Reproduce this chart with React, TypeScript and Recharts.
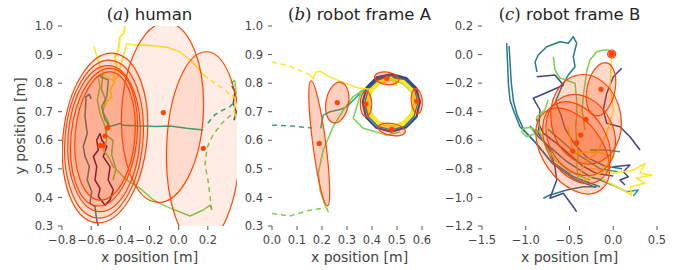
import React from "react";
import { ScatterChart, Scatter, XAxis, YAxis } from "recharts";

type P = [number, number];
type Ell = [number, number, number, number, number]; // x, y, rx, ry, angle
type Track = { pts: P[]; color: string; dash?: boolean; w?: number };

const C = {
  purple: "#440154",
  blue: "#414487",
  teal: "#2a788e",
  green: "#22a884",
  lime: "#7ad151",
  olive: "#5ec962",
  yellow: "#fde725",
};

// ---------- (a) human ----------
const aXTicks = [-0.8, -0.6, -0.4, -0.2, 0, 0.2];
const abYTicks = [0.3, 0.4, 0.5, 0.6, 0.7, 0.8, 0.9, 1.0];

const aTeal: P[] = [[-0.6, 0.745], [-0.613, 0.761], [-0.635, 0.753], [-0.642, 0.683], [-0.627, 0.624], [-0.654, 0.578], [-0.642, 0.543], [-0.613, 0.508], [-0.627, 0.461], [-0.596, 0.42], [-0.608, 0.379], [-0.574, 0.368], [-0.562, 0.321], [-0.551, 0.3]];
const aPurple: P[] = [[-0.539, 0.624], [-0.562, 0.601], [-0.551, 0.566], [-0.585, 0.543], [-0.562, 0.508], [-0.574, 0.461], [-0.539, 0.432], [-0.551, 0.403], [-0.505, 0.373], [-0.471, 0.391], [-0.448, 0.426], [-0.483, 0.461], [-0.471, 0.508], [-0.517, 0.543], [-0.493, 0.578], [-0.528, 0.601], [-0.539, 0.624]];
const aGreen: P[] = [[-0.539, 0.823], [-0.482, 0.811], [-0.493, 0.753], [-0.528, 0.718], [-0.505, 0.671], [-0.471, 0.648], [-0.402, 0.659], [-0.38, 0.653], [-0.265, 0.65], [-0.151, 0.648], [-0.059, 0.65], [0.055, 0.642], [0.169, 0.636]];
const aGreenDash: P[] = [[0.2, 0.66], [0.25, 0.69], [0.3, 0.705], [0.352, 0.718], [0.398, 0.741]];
const aLime: P[] = [[-0.551, 0.817], [-0.539, 0.788], [-0.558, 0.741], [-0.539, 0.694], [-0.505, 0.648], [-0.493, 0.601], [-0.517, 0.566], [-0.483, 0.543], [-0.448, 0.508], [-0.356, 0.461], [-0.265, 0.432], [-0.174, 0.391], [-0.082, 0.368], [0.078, 0.335], [0.169, 0.356], [0.215, 0.373], [0.227, 0.356]];
const aLimeDash: P[] = [[0.227, 0.356], [0.201, 0.461], [0.181, 0.513], [0.194, 0.573], [0.235, 0.618], [0.297, 0.66], [0.373, 0.695]];
const aOlive: P[] = [[-0.56, 0.82], [-0.52, 0.83], [-0.53, 0.78], [-0.5, 0.74], [-0.52, 0.7], [-0.48, 0.66], [-0.5, 0.62], [-0.45, 0.6], [-0.46, 0.55], [-0.43, 0.5], [-0.45, 0.46]];
const aYellow1: P[] = [[-0.368, 1.0], [-0.375, 0.975], [-0.402, 0.962], [-0.414, 0.916], [-0.437, 0.893], [-0.425, 0.858], [-0.448, 0.828], [-0.437, 0.805], [-0.471, 0.776], [-0.459, 0.753], [-0.493, 0.735], [-0.505, 0.718]];
const aYellow2: P[] = [[-0.58, 0.93], [-0.56, 0.89], [-0.539, 0.86], [-0.493, 0.82], [-0.448, 0.81], [-0.42, 0.82], [-0.356, 0.939], [-0.313, 0.934], [-0.197, 0.932], [-0.08, 0.926], [0.009, 0.909], [0.078, 0.881], [0.133, 0.853], [0.169, 0.828]];
const aYellowDash: P[] = [[0.169, 0.828], [0.249, 0.8], [0.318, 0.776], [0.373, 0.748]];
const aEdgeBlue: P[] = [[0.365, 0.79], [0.385, 0.77], [0.375, 0.73], [0.395, 0.7], [0.38, 0.67]];
const aEdgeYellow: P[] = [[0.37, 0.76], [0.39, 0.74], [0.38, 0.7], [0.395, 0.68]];
const aEdgeLime: P[] = [[0.36, 0.8], [0.385, 0.81], [0.395, 0.76]];

const aEllipses: Ell[] = [
  [-0.505, 0.608, 0.288, 0.298, 6],
  [-0.512, 0.604, 0.267, 0.277, 5],
  [-0.512, 0.606, 0.247, 0.256, 4],
  [-0.512, 0.611, 0.226, 0.242, 6],
  [-0.505, 0.615, 0.205, 0.225, 5],
  [-0.111, 0.697, 0.28, 0.315, 3],
  [0.169, 0.572, 0.252, 0.338, 2],
];
const aMeans: P[] = [[-0.487, 0.644], [-0.505, 0.615], [-0.54, 0.581], [-0.52, 0.581], [-0.105, 0.697], [0.169, 0.572]];

// ---------- (b) robot frame A ----------
const bXTicks = [0, 0.1, 0.2, 0.3, 0.4, 0.5, 0.6];

const bYellowDash: P[] = [[0, 0.875], [0.075, 0.858], [0.152, 0.829]];
const bYellow: P[] = [[0.152, 0.828], [0.164, 0.815], [0.176, 0.839], [0.192, 0.842], [0.232, 0.821], [0.292, 0.8], [0.344, 0.783], [0.392, 0.779], [0.432, 0.797], [0.452, 0.811]];
const bTealDash: P[] = [[0, 0.653], [0.08, 0.65], [0.16, 0.643]];
const bTeal: P[] = [[0.195, 0.642], [0.205, 0.688], [0.232, 0.7], [0.272, 0.708], [0.299, 0.717], [0.325, 0.74], [0.352, 0.764], [0.379, 0.782], [0.405, 0.799]];
const bLimeDash: P[] = [[0, 0.344], [0.072, 0.335], [0.139, 0.353], [0.2, 0.362]];
const bLime: P[] = [[0.219, 0.362], [0.225, 0.35], [0.213, 0.37], [0.192, 0.426], [0.185, 0.484], [0.205, 0.566], [0.245, 0.648], [0.285, 0.706], [0.325, 0.753], [0.365, 0.776], [0.416, 0.794]];
const bLime2: P[] = [[0.359, 0.776], [0.325, 0.677], [0.365, 0.642], [0.459, 0.618], [0.512, 0.63]];
const ringBlue: P[] = [[0.38, 0.78], [0.42, 0.815], [0.476, 0.829], [0.532, 0.815], [0.575, 0.78], [0.592, 0.735], [0.578, 0.682], [0.536, 0.645], [0.477, 0.63], [0.417, 0.644], [0.376, 0.681], [0.363, 0.733], [0.378, 0.785], [0.418, 0.82], [0.478, 0.832], [0.537, 0.818], [0.577, 0.783], [0.591, 0.734]];
const ringTeal: P[] = [[0.582, 0.729], [0.568, 0.777], [0.53, 0.811], [0.477, 0.823], [0.424, 0.81], [0.387, 0.777], [0.372, 0.73], [0.386, 0.684], [0.424, 0.65], [0.478, 0.638], [0.531, 0.651], [0.567, 0.684], [0.581, 0.731], [0.565, 0.772], [0.527, 0.806], [0.476, 0.818]];
const ringGreen: P[] = [[0.575, 0.733], [0.561, 0.775], [0.526, 0.806], [0.476, 0.817], [0.427, 0.805], [0.392, 0.774], [0.379, 0.731], [0.392, 0.688], [0.428, 0.657], [0.477, 0.646], [0.526, 0.657], [0.561, 0.689], [0.574, 0.732]];
const ringLime: P[] = [[0.57, 0.73], [0.557, 0.771], [0.524, 0.8], [0.477, 0.812], [0.43, 0.8], [0.396, 0.771], [0.384, 0.73], [0.396, 0.69], [0.43, 0.661], [0.477, 0.65], [0.524, 0.661], [0.557, 0.691], [0.569, 0.731]];
const ringYellow: P[] = [[0.452, 0.81], [0.477, 0.815], [0.523, 0.804], [0.556, 0.774], [0.568, 0.733], [0.556, 0.692], [0.523, 0.662], [0.477, 0.651], [0.431, 0.662], [0.398, 0.692], [0.386, 0.732], [0.398, 0.772], [0.431, 0.802], [0.477, 0.813], [0.527, 0.807], [0.563, 0.777], [0.577, 0.733], [0.562, 0.687], [0.526, 0.654], [0.477, 0.642], [0.428, 0.654], [0.392, 0.686], [0.378, 0.731], [0.392, 0.776], [0.428, 0.806], [0.477, 0.82], [0.5, 0.79]];

const bEllipses: Ell[] = [
  [0.189, 0.589, 0.026, 0.2205, -7.5],
  [0.261, 0.732, 0.045, 0.072, 10],
  [0.459, 0.817, 0.049, 0.0217, 8],
  [0.376, 0.727, 0.023, 0.044, 0],
  [0.579, 0.737, 0.022, 0.044, -5],
  [0.479, 0.638, 0.055, 0.021, 10],
];
const bMeans: P[] = [[0.189, 0.589], [0.261, 0.732], [0.459, 0.817], [0.376, 0.727], [0.579, 0.737], [0.479, 0.638]];

// ---------- (c) robot frame B ----------
const cXTicks = [-1.5, -1.0, -0.5, 0, 0.5];
const cYTicks = [-1.2, -1.0, -0.8, -0.6, -0.4, -0.2, 0, 0.2];

const cTealArc: P[] = [[-1.218, 0.079], [-1.209, -0.038], [-1.199, -0.201], [-1.18, -0.318], [-1.142, -0.388], [-1.066, -0.505], [-0.914, -0.598], [-0.723, -0.738], [-0.457, -0.855], [-0.151, -0.925]];
const cTealArc2: P[] = [[-1.19, 0.06], [-1.18, -0.05], [-1.165, -0.2], [-1.14, -0.33], [-1.1, -0.42], [-1.02, -0.53], [-0.87, -0.63], [-0.7, -0.76], [-0.45, -0.87], [-0.2, -0.93]];
const cTealTop: P[] = [[-0.871, -0.122], [-0.894, -0.052], [-0.857, -0.003], [-0.761, 0.055], [-0.609, 0.09], [-0.514, 0.079], [-0.457, 0.125], [-0.418, 0.079], [-0.457, -0.015], [-0.437, -0.085], [-0.514, -0.143], [-0.589, -0.225], [-0.66, -0.33], [-0.6, -0.42], [-0.55, -0.52], [-0.45, -0.62], [-0.3, -0.72], [-0.1, -0.78], [0.1, -0.8]];
const cBlueRight: P[] = [[0.097, -0.096], [0.001, -0.155], [-0.075, -0.271], [-0.114, -0.388], [-0.075, -0.481], [0.077, -0.505], [0.191, -0.575], [0.306, -0.668]];
const cBlueLeft: P[] = [[-0.875, -0.155], [-0.666, -0.143], [-0.571, -0.213], [-0.7, -0.25], [-0.914, -0.306], [-0.837, -0.388], [-0.857, -0.551], [-0.723, -0.668], [-0.666, -0.785], [-0.646, -0.878], [-0.723, -1.006], [-0.571, -0.971], [-0.457, -1.065], [-0.418, -1.1]];
const cLimeLoop: P[] = [[-0.746, -0.318], [-0.78, -0.388], [-0.875, -0.435], [-0.837, -0.528], [-0.875, -0.551], [-0.989, -0.575], [-1.046, -0.54], [-1.028, -0.516], [-0.96, -0.51], [-0.84, -0.54], [-0.78, -0.633], [-0.666, -0.738], [-0.494, -0.822], [-0.266, -0.878]];
const cLimeVert: P[] = [[-0.685, -0.015], [-0.666, -0.108], [-0.609, -0.164], [-0.437, -0.201], [-0.418, -0.318], [-0.418, -0.435], [-0.43, -0.5], [-0.418, -0.598], [-0.4, -0.7], [-0.418, -0.785], [-0.399, -0.878]];
const cLimeTop: P[] = [[-0.323, -0.528], [-0.357, -0.388], [-0.334, -0.248], [-0.303, -0.12], [-0.266, -0.038], [-0.189, 0.02], [-0.117, 0.032], [-0.057, 0.032], [-0.018, 0.004]];
const cYellowVert: P[] = [[-0.018, -0.015], [-0.037, -0.225], [0.001, -0.388], [-0.075, -0.551], [-0.189, -0.691], [-0.303, -0.738], [-0.38, -0.831]];
const cYellowZig: P[] = [[-0.266, -0.794], [0.001, -0.831], [0.23, -0.808], [0.363, -0.761], [0.306, -0.831], [0.44, -0.843], [0.268, -0.866], [0.363, -0.901], [0.191, -0.925], [0.21, -0.983], [0.077, -0.936], [-0.151, -0.864]];
const cYellowIn: P[] = [[-0.52, -0.5], [-0.5, -0.56], [-0.46, -0.689], [-0.189, -0.68], [0.001, -0.715], [-0.151, -0.831], [-0.342, -0.878]];
const cBlueBR: P[] = [[0.001, -0.785], [0.191, -0.773], [0.115, -0.82], [0.172, -0.855], [0.077, -0.878], [0.134, -0.913]];
const cGreen1: P[] = [[-0.266, -0.668], [-0.083, -0.668], [0.077, -0.68]];
const cGreen2: P[] = [[-0.151, -0.878], [0.02, -0.92], [0.154, -0.96], [0.286, -0.948], [0.229, -0.99]];
const cBand1: P[] = [[-0.95, -0.5], [-0.85, -0.58], [-0.7, -0.66], [-0.55, -0.74], [-0.4, -0.8], [-0.25, -0.86], [-0.1, -0.88]];
const cBand2: P[] = [[-0.88, -0.45], [-0.8, -0.55], [-0.65, -0.62], [-0.5, -0.7], [-0.35, -0.78], [-0.2, -0.83], [0.0, -0.85]];
const cBand3: P[] = [[-0.75, -0.52], [-0.6, -0.6], [-0.45, -0.68], [-0.3, -0.74], [-0.15, -0.8], [0.05, -0.82]];
const cTealBottom: P[] = [[-0.799, -1.006], [-0.723, -0.983], [-0.532, -0.948], [-0.342, -0.925], [-0.189, -0.925]];

const cEllipses: Ell[] = [
  [-0.018, 0.004, 0.046, 0.028, 0],
  [-0.018, 0.004, 0.03, 0.019, 0],
  [-0.14, -0.243, 0.16, 0.189, 12],
  [-0.311, -0.453, 0.4, 0.315, -10],
  [-0.372, -0.563, 0.377, 0.294, -25],
  [-0.418, -0.617, 0.343, 0.308, -30],
  [-0.463, -0.675, 0.343, 0.336, -35],
];
const cMeans: P[] = [[-0.018, 0.004], [-0.14, -0.243], [-0.311, -0.453], [-0.372, -0.563], [-0.418, -0.617], [-0.463, -0.675]];

// ---------- layout ----------
const PLOT_W = 175;
const PLOT_H = 200;
const RED = "#ff4500";
const tickStyle = { fill: "#444", fontSize: 11.5, fontFamily: "DejaVu Sans" };

const fmt = (v: number) => (Math.abs(v) < 1e-9 ? 0 : v).toFixed(1).replace("-", "\u2212");
const toPts = (a: P[]) => a.map(([x, y]) => ({ x, y }));
const noShape = () => <g />;

type PanelProps = {
  left: number;
  yw: number;
  rightPad?: number;
  xDomain: [number, number];
  yDomain: [number, number];
  xTicks: number[];
  yTicks: number[];
  tracks: Track[];
  ellipses: Ell[];
  means: P[];
  alpha: number;
};

function Panel({ left, yw, rightPad = 2, xDomain, yDomain, xTicks, yTicks, tracks, ellipses, means, alpha }: PanelProps) {
  const kx = PLOT_W / (xDomain[1] - xDomain[0]);
  const ky = PLOT_H / (yDomain[1] - yDomain[0]);
  const ellData = ellipses.map(([x, y, rx, ry, angle]) => ({ x, y, rx, ry, angle }));
  const ellShape = (p: any) => {
    const e = p.payload;
    return (
      <ellipse
        cx={p.cx}
        cy={p.cy}
        rx={e.rx * kx}
        ry={e.ry * ky}
        transform={`rotate(${e.angle} ${p.cx} ${p.cy})`}
        fill={RED}
        fillOpacity={alpha}
        stroke={RED}
        strokeWidth={1.2}
      />
    );
  };
  const dotShape = (p: any) => <circle cx={p.cx} cy={p.cy} r={2.6} fill={RED} />;

  return (
    <div style={{ position: "absolute", left, top: 0 }}>
      <ScatterChart width={yw + PLOT_W + 1 + rightPad} height={270} margin={{ top: 25, right: rightPad, bottom: 0, left: 0 }}>
        <XAxis xAxisId="b" dataKey="x" type="number" domain={xDomain} ticks={xTicks} interval={0} allowDataOverflow height={44} tickSize={4} tickMargin={6} axisLine={false} stroke="#555" tick={tickStyle} tickFormatter={fmt} />
        <XAxis xAxisId="t" orientation="top" dataKey="x" type="number" domain={xDomain} ticks={xTicks} interval={0} allowDataOverflow height={1} tickSize={4} axisLine={false} stroke="#555" tick={false} />
        <YAxis yAxisId="l" dataKey="y" type="number" domain={yDomain} ticks={yTicks} interval={0} allowDataOverflow width={yw} tickSize={4} tickMargin={5} axisLine={false} stroke="#555" tick={tickStyle} tickFormatter={fmt} />
        <YAxis yAxisId="r" orientation="right" dataKey="y" type="number" domain={yDomain} ticks={yTicks} interval={0} allowDataOverflow width={1} tickSize={4} axisLine={false} stroke="#555" tick={false} />
        {tracks.map((t, i) => (
          <Scatter
            key={"t" + i}
            xAxisId="b"
            yAxisId="l"
            data={toPts(t.pts)}
            fill={t.color}
            line={{ stroke: t.color, strokeWidth: t.w ?? 1.5, strokeDasharray: t.dash ? "5 4" : undefined, strokeLinejoin: "round" }}
            shape={noShape}
            isAnimationActive={false}
          />
        ))}
        <Scatter xAxisId="b" yAxisId="l" data={ellData} shape={ellShape} isAnimationActive={false} />
        <Scatter xAxisId="b" yAxisId="l" data={toPts(means)} shape={dotShape} isAnimationActive={false} />
      </ScatterChart>
    </div>
  );
}

const aTracks: Track[] = [
  { pts: aTeal, color: C.teal },
  { pts: aPurple, color: C.purple },
  { pts: aOlive, color: C.olive },
  { pts: aGreen, color: C.green },
  { pts: aGreenDash, color: C.green, dash: true },
  { pts: aLime, color: C.lime },
  { pts: aLimeDash, color: C.lime, dash: true },
  { pts: aYellow2, color: C.yellow },
  { pts: aYellow1, color: C.yellow, w: 2 },
  { pts: aYellowDash, color: C.yellow, dash: true },
  { pts: aEdgeBlue, color: C.blue },
  { pts: aEdgeYellow, color: C.yellow },
  { pts: aEdgeLime, color: C.lime },
];

const bTracks: Track[] = [
  { pts: bYellowDash, color: C.yellow, dash: true },
  { pts: bTealDash, color: C.green, dash: true },
  { pts: bLimeDash, color: C.lime, dash: true },
  { pts: bTeal, color: C.green },
  { pts: bLime, color: C.lime },
  { pts: bLime2, color: C.lime },
  { pts: ringBlue, color: C.blue, w: 2.2 },
  { pts: ringTeal, color: C.teal, w: 2.2 },
  { pts: ringGreen, color: C.green, w: 2.2 },
  { pts: ringLime, color: C.lime, w: 2.2 },
  { pts: ringYellow, color: C.yellow, w: 2.2 },
  { pts: bYellow, color: C.yellow },
];

const cTracks: Track[] = [
  { pts: cTealArc, color: C.teal },
  { pts: cTealArc2, color: C.teal },
  { pts: cTealTop, color: C.teal },
  { pts: cTealBottom, color: C.teal },
  { pts: cBlueLeft, color: C.blue },
  { pts: cBlueRight, color: C.blue },
  { pts: cBand1, color: C.teal },
  { pts: cBand2, color: C.blue },
  { pts: cBand3, color: C.green },
  { pts: cLimeLoop, color: C.lime },
  { pts: cLimeVert, color: C.lime },
  { pts: cLimeTop, color: C.lime },
  { pts: cGreen1, color: C.green },
  { pts: cGreen2, color: C.green },
  { pts: cBlueBR, color: C.blue },
  { pts: cYellowVert, color: C.yellow },
  { pts: cYellowIn, color: C.yellow },
  { pts: cYellowZig, color: C.yellow },
];

function Title({ x, letter, text }: { x: number; letter: string; text: string }) {
  return (
    <text x={x} y={20} textAnchor="middle" fontSize={16.5} fill="#262626">
      <tspan fontFamily="DejaVu Serif">(</tspan>
      <tspan fontFamily="DejaVu Serif" fontStyle="italic">{letter}</tspan>
      <tspan fontFamily="DejaVu Serif">)</tspan>
      <tspan fontFamily="DejaVu Sans">{" " + text}</tspan>
    </text>
  );
}

export default function App() {
  const labelProps = { fontFamily: "DejaVu Sans", fontSize: 14, fill: "#444", textAnchor: "middle" as const };
  return (
    <div style={{ position: "absolute", left: 0, top: 0, width: 683, height: 270, background: "#fff", overflow: "hidden" }}>
      <Panel left={0} yw={62} xDomain={[-0.8, 0.4]} yDomain={[0.3, 1.0]} xTicks={aXTicks} yTicks={abYTicks} tracks={aTracks} ellipses={aEllipses} means={aMeans} alpha={0.1} />
      <Panel left={236} yw={36} xDomain={[0, 0.7]} yDomain={[0.3, 1.0]} xTicks={bXTicks} yTicks={abYTicks} tracks={bTracks} ellipses={bEllipses} means={bMeans} alpha={0.25} />
      <Panel left={446} yw={36} rightPad={20} xDomain={[-1.5, 0.5]} yDomain={[-1.2, 0.2]} xTicks={cXTicks} yTicks={cYTicks} tracks={cTracks} ellipses={cEllipses} means={cMeans} alpha={0.2} />
      <svg width={683} height={270} style={{ position: "absolute", left: 0, top: 0, pointerEvents: "none" }}>
        <Title x={149.5} letter="a" text="human" />
        <Title x={359.5} letter="b" text="robot frame A" />
        <Title x={569.5} letter="c" text="robot frame B" />
        <text x={149.5} y={262} {...labelProps}>x position [m]</text>
        <text x={359.5} y={262} {...labelProps}>x position [m]</text>
        <text x={569.5} y={262} {...labelProps}>x position [m]</text>
        <text transform="translate(25 126) rotate(-90)" {...labelProps}>y position [m]</text>
      </svg>
    </div>
  );
}
